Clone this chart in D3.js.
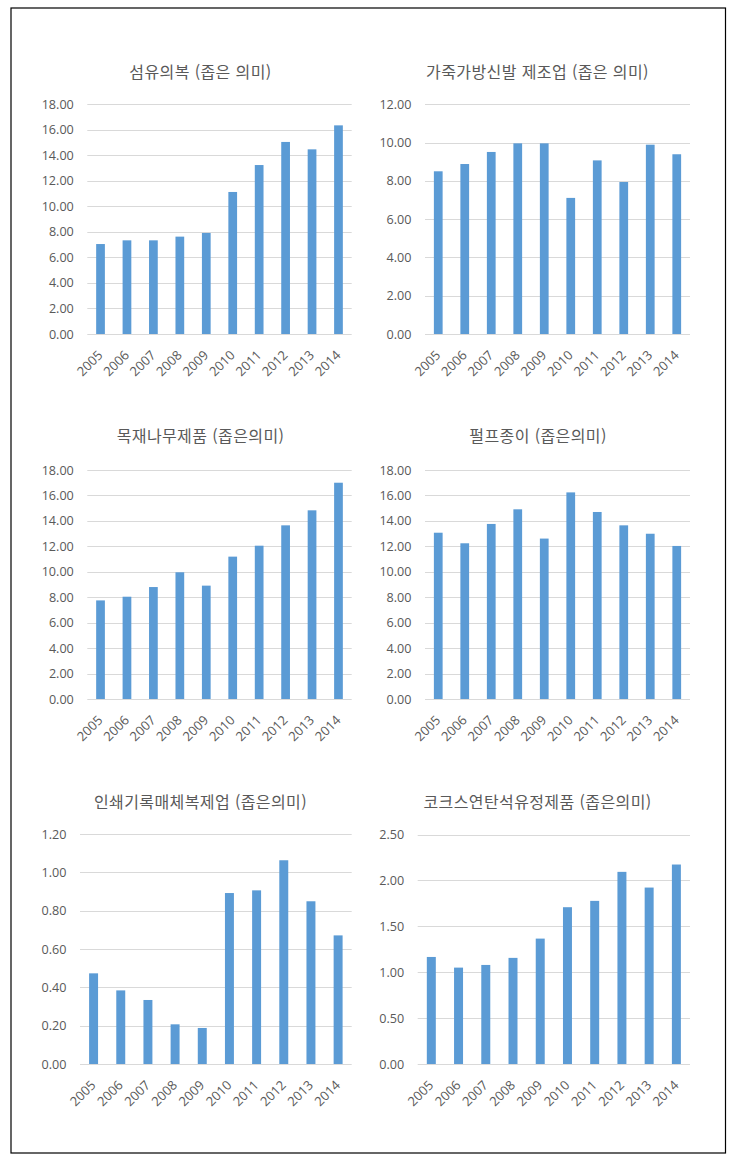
<!DOCTYPE html>
<html lang="ko">
  <head>
    <meta charset="UTF-8" />
    <title>좁은 의미 산업별 추이</title>
    <script src="https://d3js.org/d3.v7.min.js"></script>
    <style>
      body {
        margin: 0;
        background: #fff;
      }
      svg {
        display: block;
      }
      .grid line {
        stroke: #d9d9d9;
        stroke-width: 1px;
      }
      .tick-label {
        font-family: "Open Sans", "Noto Sans", sans-serif;
        font-size: 12.6px;
        fill: #595959;
      }
      .x-label {
        font-family: "Open Sans", "Noto Sans", sans-serif;
        font-size: 13px;
        fill: #595959;
      }
      .title {
        font-family: "Noto Sans CJK KR", sans-serif;
        font-size: 16px;
        letter-spacing: 0.4px;
        fill: #595959;
      }
    </style>
  </head>
  <body>
    <svg id="chart" width="739" height="1166"></svg>

    <script>
      const years = ["2005", "2006", "2007", "2008", "2009", "2010", "2011", "2012", "2013", "2014"];

      const titles = [
        "섬유의복 (좁은 의미)",
        "가죽가방신발 제조업 (좁은 의미)",
        "목재나무제품 (좁은의미)",
        "펄프종이 (좁은의미)",
        "인쇄기록매체복제업 (좁은의미)",
        "코크스연탄석유정제품 (좁은의미)",
      ];

      const textile = [7.05, 7.34, 7.34, 7.63, 7.92, 11.13, 13.24, 15.05, 14.47, 16.35];
      const leather = [8.5, 8.88, 9.51, 9.96, 9.96, 7.11, 9.07, 7.94, 9.89, 9.39];
      const wood = [7.75, 8.04, 8.8, 9.96, 8.91, 11.19, 12.05, 13.65, 14.83, 17.0];
      const paper = [13.07, 12.24, 13.76, 14.91, 12.61, 16.24, 14.7, 13.65, 12.99, 12.03];
      const printing = [0.473, 0.384, 0.334, 0.207, 0.188, 0.892, 0.906, 1.063, 0.849, 0.671];
      const coke = [1.166, 1.05, 1.079, 1.156, 1.366, 1.708, 1.777, 2.093, 1.922, 2.173];

      const yMaxes = [18, 12, 18, 18, 1.2, 2.5];
      const yTicks = [
        [0, 2, 4, 6, 8, 10, 12, 14, 16, 18],
        [0, 2, 4, 6, 8, 10, 12],
        [0, 2, 4, 6, 8, 10, 12, 14, 16, 18],
        [0, 2, 4, 6, 8, 10, 12, 14, 16, 18],
        [0, 0.2, 0.4, 0.6, 0.8, 1.0, 1.2],
        [0, 0.5, 1.0, 1.5, 2.0, 2.5],
      ];

      const series = [textile, leather, wood, paper, printing, coke];

      // plot box of each panel and where its title sits
      const panels = [
        { x0: 87.3, x1: 351.7, top: 104.3, bottom: 334, tx: 200.5, ty: 72 },
        { x0: 425, x1: 690, top: 104.3, bottom: 334, tx: 537.5, ty: 72 },
        { x0: 87.3, x1: 351.7, top: 470, bottom: 699, tx: 200.5, ty: 436 },
        { x0: 425, x1: 690, top: 470, bottom: 699, tx: 538, ty: 436 },
        { x0: 80, x1: 351.7, top: 834, bottom: 1064, tx: 200.5, ty: 802 },
        { x0: 417.7, x1: 690, top: 834.5, bottom: 1064, tx: 537.5, ty: 802 },
      ];

      const svg = d3.select("#chart");

      // outer frame
      svg
        .append("rect")
        .attr("x", 11)
        .attr("y", 8)
        .attr("width", 714.5)
        .attr("height", 1145)
        .attr("fill", "none")
        .attr("stroke", "#000")
        .attr("stroke-width", 1.2);

      panels.forEach((p, i) => {
        const g = svg.append("g");
        const values = series[i];

        const x = d3
          .scaleBand()
          .domain(years)
          .range([p.x0, p.x1])
          .paddingInner(0.67)
          .paddingOuter(0.335);

        const y = d3.scaleLinear().domain([0, yMaxes[i]]).range([p.bottom, p.top]);

        const fmt = d3.format(".2f");

        // gridlines
        g.append("g")
          .attr("class", "grid")
          .selectAll("line")
          .data(yTicks[i])
          .enter()
          .append("line")
          .attr("x1", p.x0)
          .attr("x2", p.x1)
          .attr("y1", (d) => Math.round(y(d)) + 0.5)
          .attr("y2", (d) => Math.round(y(d)) + 0.5);

        // y tick labels
        g.selectAll(".ylab")
          .data(yTicks[i])
          .enter()
          .append("text")
          .attr("class", "tick-label")
          .attr("x", p.x0 - 13.5)
          .attr("y", (d) => y(d))
          .attr("dy", "0.36em")
          .attr("text-anchor", "end")
          .text((d) => fmt(d));

        // bars
        g.selectAll(".bar")
          .data(values)
          .enter()
          .append("rect")
          .attr("x", (d, j) => x(years[j]))
          .attr("width", x.bandwidth())
          .attr("y", (d) => y(d))
          .attr("height", (d) => y(0) - y(d))
          .attr("fill", "#5b9bd5");

        // x labels rotated
        g.selectAll(".xlab")
          .data(years)
          .enter()
          .append("text")
          .attr("class", "x-label")
          .attr("text-anchor", "end")
          .attr(
            "transform",
            (d) =>
              `translate(${x(d) + x.bandwidth() / 2 + 3},${p.bottom + 22}) rotate(-45)`
          )
          .text((d) => d);

        // title
        g.append("text")
          .attr("class", "title")
          .attr("x", p.tx)
          .attr("y", p.ty)
          .attr("dy", "0.35em")
          .attr("text-anchor", "middle")
          .text(titles[i]);
      });
    </script>
  </body>
</html>
